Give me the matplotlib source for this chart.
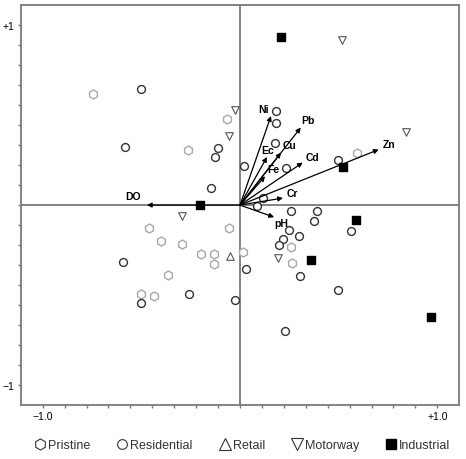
import matplotlib
matplotlib.use("Agg")
from matplotlib import pyplot as plt
from matplotlib.lines import Line2D

plt.rcParams['font.family'] = ['Liberation Sans', 'DejaVu Sans']

# sample scores
pristine_x = [-0.746, -0.264, -0.066, 0.594, 0.259, 0.015, 0.264, -0.462, -0.056, -0.401,
              -0.294, -0.198, -0.132, -0.132, -0.365, -0.503, -0.437]
pristine_y = [0.617, 0.306, 0.478, 0.289, -0.231, -0.263, -0.320, -0.126, -0.126, -0.198,
              -0.217, -0.272, -0.272, -0.328, -0.389, -0.494, -0.506]

resid_x = [-0.503, -0.584, -0.112, -0.127, -0.147, 0.183, 0.183, 0.497, 0.178, 0.234, 0.020,
           0.117, 0.086, 0.259, 0.391, 0.376, 0.563, 0.250, 0.300, 0.218, 0.198, 0.030,
           0.305, 0.497, -0.025, 0.228, -0.594, -0.259, -0.503]
resid_y = [0.644, 0.322, 0.317, 0.267, 0.094, 0.522, 0.455, 0.250, 0.344, 0.206, 0.217,
           0.039, -0.006, -0.035, -0.032, -0.089, -0.146, -0.137, -0.174, -0.189, -0.220,
           -0.356, -0.396, -0.469, -0.524, -0.700, -0.317, -0.494, -0.544]

retail_x = [-0.051]
retail_y = [-0.283]

motorway_x = [-0.025, -0.056, 0.518, 0.843, 0.193, -0.294]
motorway_y = [0.528, 0.383, 0.917, 0.406, -0.296, -0.060]

indus_x = [-0.203, 0.208, 0.523, 0.589, 0.360, 0.970]
indus_y = [0.000, 0.933, 0.211, -0.081, -0.306, -0.619]

# variable loadings
var_names = ['Ni', 'Pb', 'Ec', 'Cu', 'Fe', 'Cd', 'Zn', 'Cr', 'pH', 'DO']
var_x = [0.157, 0.308, 0.137, 0.208, 0.127, 0.318, 0.703, 0.218, 0.173, -0.472]
var_y = [0.494, 0.430, 0.267, 0.291, 0.160, 0.236, 0.308, 0.039, -0.067, 0.0]
label_dx = [-0.035, 0.035, 0.005, 0.045, 0.04, 0.05, 0.05, 0.05, 0.035, -0.07]
label_dy = [0.04, 0.04, 0.04, 0.04, 0.04, 0.03, 0.03, 0.03, -0.03, 0.05]

fig = plt.figure(figsize=(4.66, 4.60), dpi=100)
ax = fig.add_axes([0.045, 0.117, 0.94, 0.87])

gray = '#7a7a7a'
ax.axhline(0, color=gray, lw=1.3, zorder=1)
ax.axvline(0, color=gray, lw=1.3, zorder=1)

ax.scatter(pristine_x, pristine_y, marker='h', s=42, facecolors='white',
           edgecolors='#a8a8a8', linewidths=1.0, zorder=3)
ax.scatter(resid_x, resid_y, marker='o', s=32, facecolors='white',
           edgecolors='#333333', linewidths=1.0, zorder=3)
ax.scatter(retail_x, retail_y, marker='^', s=30, facecolors='white',
           edgecolors='#555555', linewidths=0.8, zorder=3)
ax.scatter(motorway_x, motorway_y, marker='v', s=30, facecolors='white',
           edgecolors='#555555', linewidths=0.8, zorder=3)
ax.scatter(indus_x, indus_y, marker='s', s=26, color='black', zorder=3)

for name, x, y, dx, dy in zip(var_names, var_x, var_y, label_dx, label_dy):
    ax.annotate('', xy=(x, y), xytext=(0, 0),
                arrowprops=dict(arrowstyle='-|>', color='black', lw=0.9,
                                mutation_scale=7, shrinkA=0, shrinkB=0), zorder=4)
    ax.text(x + dx, y + dy, name, fontsize=7.5, fontweight='bold',
            ha='center', va='center', zorder=5)

ax.set_xlim(-1.11, 1.11)
ax.set_ylim(-1.11, 1.11)
ticks = [-1 + i / 9 for i in range(19)]
ax.set_xticks(ticks)
ax.set_yticks(ticks)
ax.set_xticklabels(['\u22121.0' if i == 0 else '+1.0' if i == 18 else '' for i in range(19)])
ax.set_yticklabels(['\u22121' if i == 0 else '+1' if i == 18 else '' for i in range(19)])
ax.tick_params(direction='out', length=2.5, width=1, color=gray, labelsize=7.5, pad=2)
ax.tick_params(top=False, right=False)
for s in ax.spines.values():
    s.set_color(gray)
    s.set_linewidth(1.3)

handles = [
    Line2D([], [], marker='h', ls='', mfc='white', mec='#333333', ms=8, mew=0.8),
    Line2D([], [], marker='o', ls='', mfc='white', mec='#333333', ms=7, mew=0.8),
    Line2D([], [], marker='^', ls='', mfc='white', mec='#333333', ms=8, mew=0.8),
    Line2D([], [], marker='v', ls='', mfc='white', mec='#333333', ms=8, mew=0.8),
    Line2D([], [], marker='s', ls='', mfc='black', mec='black', ms=7),
]
fig.legend(handles, ['Pristine', 'Residential', 'Retail', 'Motorway', 'Industrial'],
           loc='center', bbox_to_anchor=(0.52, 0.03), ncol=5, frameon=False,
           fontsize=9, handlelength=0.9, handletextpad=0.2, columnspacing=2.1,
           labelcolor='#333333')

fig.savefig('out.png', dpi=100)
